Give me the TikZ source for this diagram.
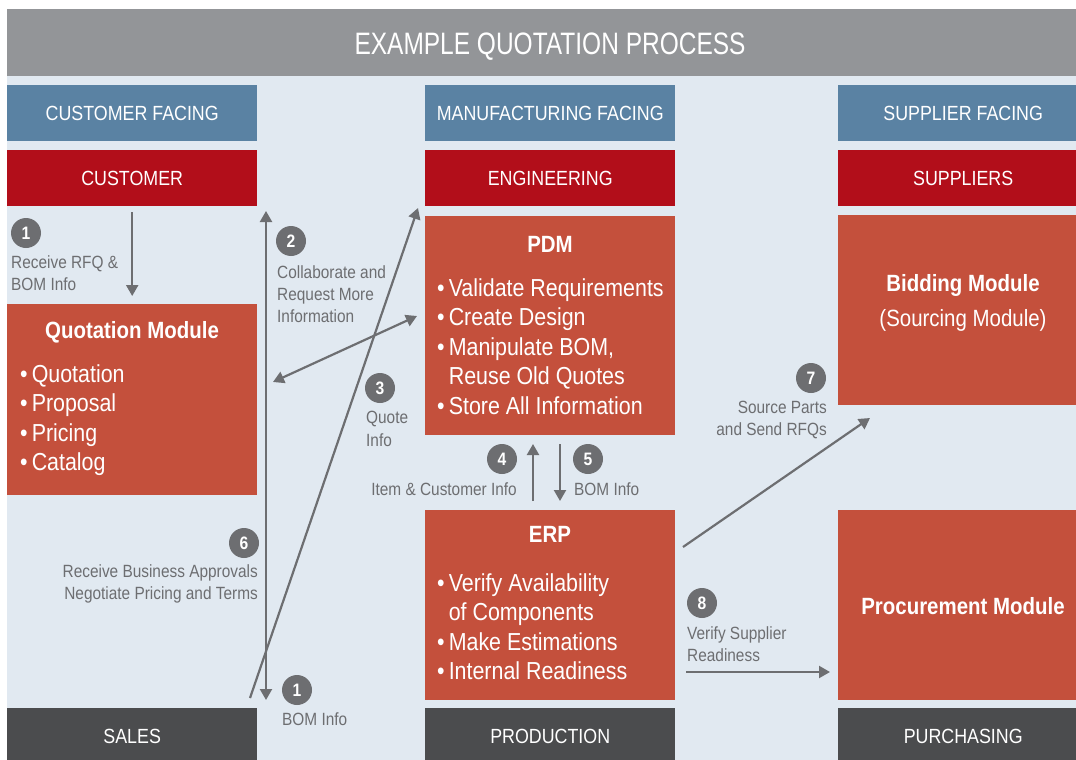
\documentclass[tikz,border=0pt]{standalone}
\usepackage{fontspec}
\setmainfont{Liberation Sans}[FakeStretch=0.87]
\newfontfamily\titlefont{Liberation Sans}[FakeStretch=0.79]
\usetikzlibrary{arrows.meta}
\definecolor{titlegray}{HTML}{939598}
\definecolor{bgblue}{HTML}{E1E9F1}
\definecolor{headblue}{HTML}{5A82A3}
\definecolor{darkred}{HTML}{B20E1A}
\definecolor{boxred}{HTML}{C4503C}
\definecolor{darkgray}{HTML}{4B4C4E}
\definecolor{arrgray}{HTML}{6D6E71}
\begin{document}
\begin{tikzpicture}[x=1pt,y=-1pt,
  band/.style={anchor=north west, inner sep=0pt, minimum width=250pt, minimum height=56pt, text=white, font=\fontsize{20.5}{24}\selectfont},
  blueband/.style={band, fill=headblue},
  redband/.style={band, fill=darkred},
  darkband/.style={band, fill=darkgray},
  redbox/.style={anchor=north west, inner sep=0pt, minimum width=250pt, fill=boxred},
  boxhead/.style={text=white, inner sep=0pt, font=\bfseries\fontsize{23.5}{28}\selectfont},
  boxsub/.style={text=white, inner sep=0pt, font=\fontsize{23.5}{28}\selectfont},
  bullets/.style={text=white, inner sep=0pt, anchor=west, align=left, font=\fontsize{24.6}{29.4}\selectfont},
  num/.style={circle, fill=arrgray, text=white, minimum size=30pt, inner sep=0pt, font=\bfseries\fontsize{18}{18}\selectfont},
  lab/.style={text=arrgray, inner sep=0pt, font=\fontsize{17.7}{22.3}\selectfont},
  arr/.style={draw=arrgray, line width=2.2pt, -{Triangle[length=11pt,width=12pt]}},
  darr/.style={draw=arrgray, line width=2.2pt, {Triangle[length=11pt,width=12pt]}-{Triangle[length=11pt,width=12pt]}}
]
\useasboundingbox (0,0) rectangle (1076,760);
\fill[white] (0,0) rectangle (1076,760);
% background
\fill[bgblue] (7,76) rectangle (1076,760);
\node[anchor=north west, fill=titlegray, inner sep=0pt, minimum width=1086pt, minimum height=67pt] (title) at (7,9) {};
\node[text=white, inner sep=0pt, font=\titlefont\fontsize{31}{34}\selectfont] (titletext) at (550,47) {EXAMPLE QUOTATION PROCESS};

% header bands
\node[blueband] (cf) at (7,85) {CUSTOMER FACING};
\node[blueband] (mf) at (425,85) {MANUFACTURING FACING};
\node[blueband] (sf) at (838,85) {SUPPLIER FACING};
\node[redband] (customer) at (7,150) {CUSTOMER};
\node[redband] (eng) at (425,150) {ENGINEERING};
\node[redband] (suppliers) at (838,150) {SUPPLIERS};
\node[darkband] (sales) at (7,708) {SALES};
\node[darkband] (prod) at (425,708) {PRODUCTION};
\node[darkband] (purch) at (838,708) {PURCHASING};

% red boxes
\node[redbox, minimum height=191pt] (quot) at (7,304) {};
\node[boxhead] (quoth) at (132,332) {Quotation Module};
\node[bullets] (quotb) at (20,420) {•\,Quotation\\•\,Proposal\\•\,Pricing\\•\,Catalog};

\node[redbox, minimum height=219pt] (pdm) at (425,216) {};
\node[boxhead] (pdmh) at (550,244) {PDM};
\node[bullets] (pdmb) at (437,346.5) {•\,Validate Requirements\\•\,Create Design\\•\,Manipulate BOM,\\\hphantom{•\,}Reuse Old Quotes\\•\,Store All Information};

\node[redbox, minimum height=190pt] (erp) at (425,510) {};
\node[boxhead] (erph) at (550,534) {ERP};
\node[bullets] (erpb) at (437,626.5) {•\,Verify Availability\\\hphantom{•\,}of Components\\•\,Make Estimations\\•\,Internal Readiness};

\node[redbox, minimum height=190pt] (bid) at (838,215) {};
\node[boxhead] (bidh) at (963,285) {Bidding Module};
\node[boxsub] (bids) at (963,320) {(Sourcing Module)};

\node[redbox, minimum height=190pt] (proc) at (838,510) {};
\node[boxhead] (proch) at (963,606) {Procurement Module};

% number badges
\node[num] (n1a) at (26,233) {1};
\node[num] (n2) at (291,241) {2};
\node[num] (n3) at (380,388) {3};
\node[num] (n4) at (502,459) {4};
\node[num] (n5) at (588,459) {5};
\node[num] (n6) at (244,543) {6};
\node[num] (n7) at (811,378) {7};
\node[num] (n8) at (702,603) {8};
\node[num] (n1b) at (297,690) {1};

% labels
\node[lab, anchor=west, align=left] (l1a) at (11,273) {Receive RFQ \&\\BOM Info};
\node[lab, anchor=west, align=left] (l2) at (277,294) {Collaborate and\\Request More\\Information};
\node[lab, anchor=west, align=left] (l3) at (366,429) {Quote\\Info};
\node[lab, anchor=east] (l4) at (517,489) {Item \& Customer Info};
\node[lab, anchor=west] (l5) at (574,489) {BOM Info};
\node[lab, anchor=east, align=right] (l6) at (258,584) {Receive Business Approvals\\Negotiate Pricing and Terms};
\node[lab, anchor=east, align=right] (l7) at (827,420) {Source Parts\\and Send RFQs};
\node[lab, anchor=west, align=left] (l8) at (687,644) {Verify Supplier\\Readiness};
\node[lab, anchor=west] (l1b) at (282,719) {BOM Info};

% connector end points
\coordinate (vtop) at (266,211);
\coordinate (vbot) at (266,700);
\coordinate (dstart) at (250,698);
\coordinate (dend) at (418,208);
\coordinate (cl) at (273,382);
\coordinate (cr) at (417,316);
\coordinate (a4s) at (533,501);
\coordinate (a4e) at (533,444);
\coordinate (a5s) at (560,444);
\coordinate (a5e) at (560,501);
\coordinate (a7s) at (683,547);
\coordinate (a7e) at (870,418);
\coordinate (a8s) at (686,672);
\coordinate (a8e) at (830,672);

% connectors
\draw[arr, shorten <=6pt, shorten >=8pt] (customer.south) -- (quot.north);
\draw[darr] (vtop) -- (vbot);
\draw[arr] (dstart) -- (dend);
\draw[darr] (cl) -- (cr);
\draw[arr] (a4s) -- (a4e);
\draw[arr] (a5s) -- (a5e);
\draw[arr] (a7s) -- (a7e);
\draw[arr] (a8s) -- (a8e);
\end{tikzpicture}
\end{document}
